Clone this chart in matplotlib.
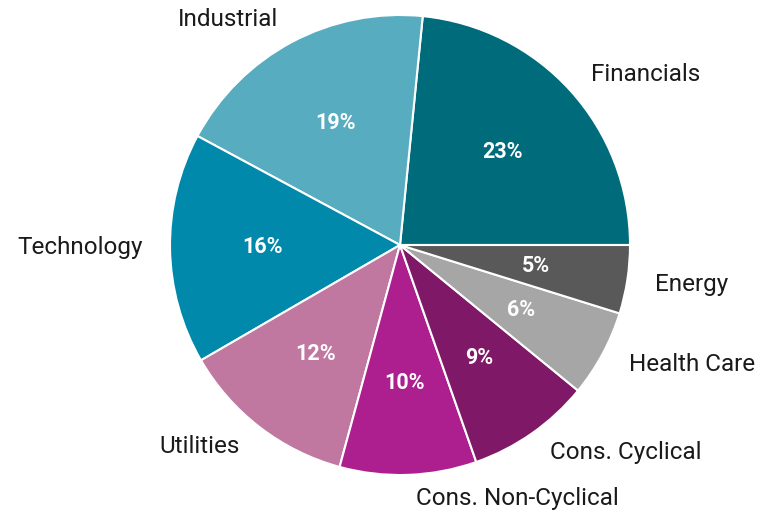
import matplotlib.pyplot as plt
import numpy as np

plt.rcParams['font.family'] = ['Roboto', 'DejaVu Sans']

# data
sectors = ['Financials', 'Industrial', 'Technology', 'Utilities',
           'Cons. Non-Cyclical', 'Cons. Cyclical', 'Health Care', 'Energy']
weights = [23.4, 18.7, 16.2, 12.4, 9.6, 8.7, 6.1, 4.8]
colors = ['#006B7A', '#57ACBF', '#0089AB', '#C178A0',
          '#AD1F8F', '#7F1866', '#A6A6A6', '#595959']

# label anchors (pie units, radius = 1)
label_pos = [(1.07, 0.74), (-0.75, 0.98), (-1.39, -0.01), (-0.87, -0.875),
             (0.51, -1.10), (0.98, -0.90), (1.27, -0.52), (1.27, -0.17)]

fig = plt.figure(figsize=(7.76, 5.12), dpi=100)
r = 230
cx, cy = 400, 245
ax = fig.add_axes([(cx - r) / 776, (512 - cy - r) / 512, 2 * r / 776, 2 * r / 512])

wedges, texts, autotexts = ax.pie(
    weights, colors=colors, startangle=0, counterclock=True,
    autopct='%.0f%%', pctdistance=0.6, radius=1,
    wedgeprops=dict(edgecolor='white', linewidth=1.5))
for t in autotexts:
    t.set_color('white')
    t.set_fontsize(15.5)
    t.set_fontweight('bold')

for name, (x, y) in zip(sectors, label_pos):
    ax.text(x, y, name, ha='center', va='center', fontsize=17.5,
            color='#1a1a1a')

ax.set_xlim(-1, 1)
ax.set_ylim(-1, 1)
ax.set_aspect('equal')
ax.axis('off')

fig.savefig('out.png', dpi=100)
